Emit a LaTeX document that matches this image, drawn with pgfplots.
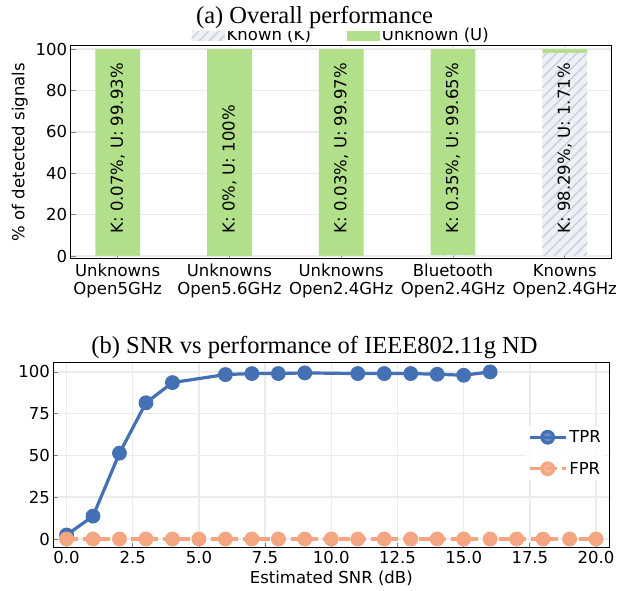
\documentclass[border=0pt]{standalone}
\usepackage{pgfplots}
\pgfplotsset{compat=1.18}
\usepackage{fontspec}
\setmainfont{DejaVu Sans}
\newfontfamily\timesfont{Liberation Serif}
\usetikzlibrary{patterns}
\pgfdeclarepatternformonly{myhatch}{\pgfpoint{-1pt}{-1pt}}{\pgfpoint{11pt}{11pt}}{\pgfpoint{10pt}{10pt}}{
  \pgfsetlinewidth{1.2pt}
  \pgfpathmoveto{\pgfpoint{-1pt}{-1pt}}
  \pgfpathlineto{\pgfpoint{11pt}{11pt}}
  \pgfusepath{stroke}
}
\definecolor{ugreen}{HTML}{B2DF8A}
\definecolor{hatchbg}{HTML}{EDF1F6}
\definecolor{hatchfg}{HTML}{C6CDD7}
\definecolor{gridgray}{HTML}{EBEBEB}
\definecolor{tprblue}{HTML}{4470B4}
\definecolor{fprsalmon}{HTML}{F4A582}
\newcommand{\ticksize}{\fontsize{16.5}{18}\selectfont}
\begin{document}
\begin{tikzpicture}
\useasboundingbox (0pt,0pt) rectangle (629pt,-590pt);
% ---------- (a) ----------
\begin{axis}[
  at={(70.7pt,-258.3pt)}, anchor=south west,
  scale only axis, width=541pt, height=212.6pt,
  ybar stacked, bar width=0.4,
  xmin=-0.42, xmax=4.42, ymin=-1.1, ymax=101.7,
  xtick={0,1,2,3,4},
  xticklabels={{Unknowns\\Open5GHz},{Unknowns\\Open5.6GHz},{Unknowns\\Open2.4GHz},{Bluetooth\\Open2.4GHz},{Knowns\\Open2.4GHz}},
  xticklabel style={align=center, font=\ticksize, yshift=-2.5pt},
  ytick={0,20,40,60,80,100},
  yticklabel style={font=\ticksize},
  /pgf/number format/assume math mode=true,
  ylabel={\% of detected signals},
  ylabel style={font=\ticksize, at={(axis description cs:-0.094,0.5)}, anchor=center},
  grid=major, major grid style={color=gridgray, line width=1.5pt},
  axis line style={line width=1.3pt},
  tick align=inside, tick pos=left, major tick length=5pt,
  tick style={color=gray, line width=0.8pt},
  legend columns=2,
  legend style={draw=none, fill=none, font=\ticksize, at={(0.5,1.05)}, anchor=center, inner sep=0pt,
    /tikz/every even column/.append style={column sep=34pt}},
  legend image code/.code={\path[#1] (0pt,-5.7pt) rectangle (33pt,5.7pt);},
]
\addplot[draw=none, fill=hatchbg, postaction={pattern=myhatch, pattern color=hatchfg}]
  coordinates {(0,0.07) (1,0) (2,0.03) (3,0.35) (4,98.29)};
\addlegendentry{Known (K)}
\addplot[draw=none, fill=ugreen]
  coordinates {(0,99.93) (1,100) (2,99.97) (3,99.65) (4,1.71)};
\addlegendentry{Unknown (U)}
\coordinate (t0) at (axis cs:0,10.8);
\coordinate (t1) at (axis cs:1,10.8);
\coordinate (t2) at (axis cs:2,10.8);
\coordinate (t3) at (axis cs:3,10.8);
\coordinate (t4) at (axis cs:4,10.8);
\end{axis}
\begin{scope}[every node/.style={rotate=90, anchor=west, inner sep=0pt, font=\ticksize}]
\node at (t0) {K: 0.07\%, U: 99.93\%};
\node at (t1) {K: 0\%, U: 100\%};
\node at (t2) {K: 0.03\%, U: 99.97\%};
\node at (t3) {K: 0.35\%, U: 99.65\%};
\node at (t4) {K: 98.29\%, U: 1.71\%};
\end{scope}
% ---------- (b) ----------
\begin{axis}[
  at={(53.3pt,-547.7pt)}, anchor=south west,
  scale only axis, width=556pt, height=185pt,
  xmin=-0.5, xmax=20.5, ymin=-5.2, ymax=105.5,
  xtick={0,2.5,...,20}, ytick={0,25,50,75,100},
  xticklabel style={font=\ticksize, /pgf/number format/.cd, fixed, fixed zerofill, precision=1},
  yticklabel style={font=\ticksize},
  /pgf/number format/assume math mode=true,
  xlabel={Estimated SNR (dB)},
  xlabel style={font=\ticksize, at={(axis description cs:0.5,-0.165)}, anchor=center},
  grid=major, major grid style={color=gridgray, line width=1.5pt},
  axis line style={line width=1.3pt},
  tick align=inside, tick pos=left, major tick length=5pt,
  tick style={color=gray, line width=0.8pt},
  legend cell align=left,
  legend style={draw=none, fill=white, fill opacity=0.8, text opacity=1, font=\ticksize,
    at={(0.994,0.512)}, anchor=east, row sep=14pt},
  legend image code/.code={\draw[#1, mark repeat=2, mark phase=2] plot coordinates {(0pt,0pt) (18pt,0pt) (36pt,0pt)};},
]
\addplot[color=tprblue, line width=3.2pt, mark=*, mark size=5.8pt, mark options={solid, draw=none, fill=tprblue}]
  coordinates {(0,2.4) (1,13.7) (2,51.4) (3,81.5) (4,93.6) (6,98.4) (7,99.0) (8,99.0) (9,99.4) (11,99.0) (12,99.0) (13,99.0) (14,98.6) (15,98.0) (16,100)};
\addlegendentry{TPR}
\addplot[color=fprsalmon, line width=3.2pt, dash pattern=on 11pt off 5pt, mark=*, mark size=5.8pt, mark options={solid, draw=none, fill=fprsalmon}]
  coordinates {(0,0) (1,0) (2,0) (3,0) (4,0) (5,0) (6,0) (7,0) (8,0) (9,0) (10,0) (11,0) (12,0) (13,0) (14,0) (15,0) (16,0) (17,0) (18,0) (19,0) (20,0)};
\addlegendentry{FPR}
\end{axis}
\node[anchor=base, font=\timesfont\fontsize{24.5}{26}\selectfont, inner xsep=2pt, inner ysep=0pt, text depth=8pt, fill=white] at (314.5pt,-23pt) {(a) Overall performance};
\node[anchor=base, font=\timesfont\fontsize{24.5}{26}\selectfont, inner sep=0pt] at (314.5pt,-353pt) {(b) SNR vs performance of IEEE802.11g ND};
\end{tikzpicture}
\end{document}
